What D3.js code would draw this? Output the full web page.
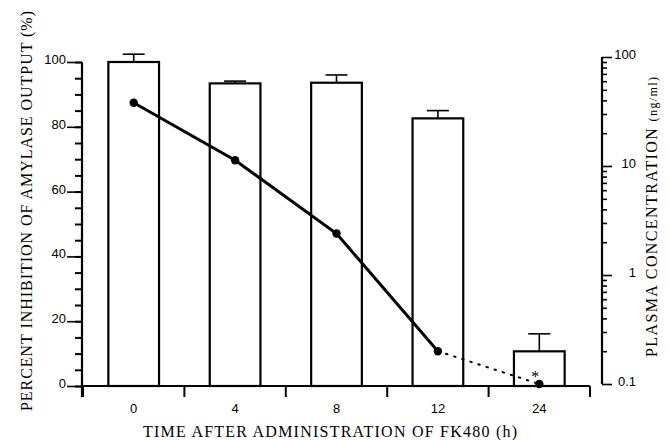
<!DOCTYPE html>
<html><head><meta charset="utf-8">
<script src="https://cdn.jsdelivr.net/npm/d3@7"></script>
<style>
body{margin:0;background:#fff}
svg{display:block}
.tick text{font-family:"Liberation Sans",Arial,sans-serif;font-size:13px;fill:#000}
.ttl{font-family:"Liberation Serif","Times New Roman",serif;font-size:16px;fill:#000}
</style></head>
<body>
<svg id="c" width="670" height="440"></svg>
<script>
const times = ["0", "4", "8", "12", "24"];
const inhibition = [100, 93.4, 93.6, 82.6, 10.7];
const inhibitionErr = [2.4, 0.7, 2.4, 2.4, 5.4];
const plasma = [38, 11.3, 2.4, 0.2, 0.1];
const leftTicks = [0, 20, 40, 60, 80, 100];
const rightTicks = [0.1, 1, 10, 100];

const svg = d3.select("#c");
const x = d3.scaleBand().domain(times).range([83, 590]).paddingInner(0.5).paddingOuter(0.25);
const yL = d3.scaleLinear().domain([0, 100]).range([386, 62]);
const yR = d3.scaleLog().domain([0.1, 100]).range([384, 57]);
const step = x.step();
const cx = d => x(d) + x.bandwidth() / 2;

// bars
svg.append("g").selectAll("rect").data(times).join("rect")
  .attr("x", d => x(d)).attr("width", x.bandwidth())
  .attr("y", (d, i) => yL(inhibition[i]))
  .attr("height", (d, i) => yL(0) - yL(inhibition[i]))
  .attr("fill", "#fff").attr("stroke", "#000").attr("stroke-width", 2.2);

// error bars
const eb = svg.append("g").attr("stroke", "#000").attr("stroke-width", 1.6);
times.forEach((t, i) => {
  const top = yL(inhibition[i] + inhibitionErr[i]);
  eb.append("line").attr("x1", cx(t)).attr("x2", cx(t)).attr("y1", yL(inhibition[i])).attr("y2", top);
  eb.append("line").attr("x1", cx(t) - 11).attr("x2", cx(t) + 11).attr("y1", top).attr("y2", top);
});

// bottom axis
const bx = svg.append("g").attr("stroke", "#000").attr("stroke-width", 2);
bx.append("line").attr("x1", 82).attr("x2", x.range()[1]).attr("y1", yL(0)).attr("y2", yL(0));
d3.range(times.length + 1).forEach(i => {
  const xx = x.range()[0] + i * step;
  bx.append("line").attr("x1", xx).attr("x2", xx).attr("y1", yL(0)).attr("y2", yL(0) + 11);
});
svg.append("g").attr("transform", `translate(0,${yL(0)})`)
  .call(d3.axisBottom(x).tickSize(0).tickPadding(18))
  .call(g => g.select(".domain").remove());

// left axis
svg.append("g").attr("transform", "translate(82,0)")
  .call(d3.axisLeft(yL).tickValues(d3.range(0, 101, 5)).tickSize(7).tickFormat(""))
  .call(g => g.select(".domain").remove())
  .selectAll("line").attr("stroke-width", 2);
svg.append("g").attr("transform", "translate(82,0)")
  .call(d3.axisLeft(yL).tickValues(leftTicks).tickSize(15).tickPadding(1))
  .call(g => g.select(".domain").remove())
  .call(g => g.selectAll("line").attr("stroke-width", 1.6))
  .call(g => g.selectAll("text").attr("dy", "0.12em"));
svg.append("line").attr("x1", 82).attr("x2", 82).attr("y1", yL(100)).attr("y2", yL(0) + 11)
  .attr("stroke", "#000").attr("stroke-width", 2.2);

// right axis
const minor = [];
for (let e = -1; e < 2; e++) for (let k = 2; k <= 9; k++) minor.push(k * Math.pow(10, e));
svg.append("g").attr("transform", "translate(602,0)")
  .call(d3.axisRight(yR).tickValues(minor).tickSize(5).tickFormat(""))
  .call(g => g.select(".domain").remove())
  .selectAll("line").attr("stroke-width", 1.6);
const ra = svg.append("g").attr("transform", "translate(602,0)")
  .call(d3.axisRight(yR).tickValues(rightTicks).tickSize(10).tickPadding(0).tickFormat(d => d3.format("~g")(d)))
  .call(g => g.select(".domain").remove())
  .call(g => g.selectAll("line").attr("stroke-width", 1.6));
ra.selectAll("text").attr("text-anchor", "end").attr("x", 34).attr("dy", "0.15em");
svg.append("line").attr("x1", 602).attr("x2", 602).attr("y1", yR(100)).attr("y2", yR(0.1))
  .attr("stroke", "#000").attr("stroke-width", 2.2);

// plasma line
const pts = times.map((t, i) => [cx(t), yR(plasma[i])]);
svg.append("path").attr("d", d3.line()(pts.slice(0, 4)))
  .attr("fill", "none").attr("stroke", "#000").attr("stroke-width", 3);
svg.append("path").attr("d", d3.line()(pts.slice(3)))
  .attr("fill", "none").attr("stroke", "#000").attr("stroke-width", 2)
  .attr("stroke-dasharray", "1.5 7").attr("stroke-linecap", "round");
svg.append("g").selectAll("circle").data(pts).join("circle")
  .attr("cx", d => d[0]).attr("cy", d => d[1]).attr("r", 4.2).attr("fill", "#000");
svg.append("text").attr("class", "ttl").attr("x", pts[4][0] - 4).attr("y", pts[4][1] - 2)
  .attr("text-anchor", "middle").style("font-size", "16px").text("*");

// titles
svg.append("text").attr("class", "ttl").attr("text-anchor", "middle")
  .attr("transform", "translate(32,211) rotate(-90)")
  .attr("textLength", 400).attr("lengthAdjust", "spacing")
  .text("PERCENT INHIBITION OF AMYLASE OUTPUT (%)");
svg.append("text").attr("class", "ttl").attr("text-anchor", "middle")
  .attr("x", 330).attr("y", 437)
  .attr("textLength", 374).attr("lengthAdjust", "spacing")
  .text("TIME AFTER ADMINISTRATION OF FK480 (h)");
const rt = svg.append("text").attr("class", "ttl").attr("text-anchor", "middle")
  .attr("transform", "translate(657,217) rotate(-90)")
  .attr("textLength", 280).attr("lengthAdjust", "spacing");
rt.append("tspan").text("PLASMA CONCENTRATION ");
rt.append("tspan").style("font-size", "12px").text("(ng/ml)");
</script>
</body></html>
